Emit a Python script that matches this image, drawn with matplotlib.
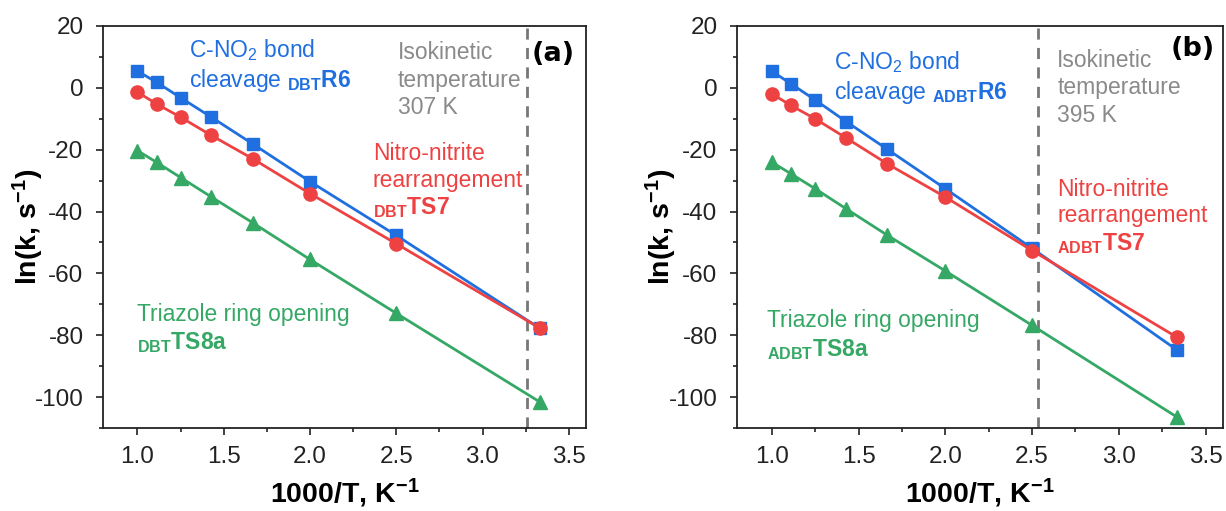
import matplotlib
matplotlib.use("Agg")
import matplotlib.pyplot as plt
from matplotlib.ticker import MultipleLocator

plt.rcParams['font.family'] = ['Liberation Sans', 'DejaVu Sans']
plt.rcParams['mathtext.fontset'] = 'custom'
plt.rcParams['mathtext.rm'] = 'Liberation Sans'
plt.rcParams['mathtext.it'] = 'Liberation Sans:italic'
plt.rcParams['mathtext.bf'] = 'Liberation Sans:bold'
plt.rcParams['axes.unicode_minus'] = False

# 1000/T for T = 1000 ... 300 K
inv_T = [1.0, 1.111, 1.25, 1.4286, 1.667, 2.0, 2.5, 3.333]

# panel (a) DBT
dbt_r6 = [5.4, 1.8, -3.2, -9.5, -18.1, -30.3, -47.7, -77.8]
dbt_ts7 = [-1.4, -5.2, -9.5, -15.4, -22.9, -34.2, -50.4, -77.7]
dbt_ts8a = [-20.3, -24.1, -29.0, -35.3, -43.6, -55.5, -72.9, -101.6]
dbt_iso_T = 307

# panel (b) ADBT
adbt_r6 = [5.4, 1.3, -3.9, -10.9, -19.9, -32.6, -51.9, -84.7]
adbt_ts7 = [-1.9, -5.7, -10.0, -16.2, -24.6, -35.3, -52.6, -80.6]
adbt_ts8a = [-24.0, -27.8, -32.6, -39.1, -47.7, -59.2, -76.8, -106.4]
adbt_iso_T = 395

blue = '#1f6fe0'
red = '#ee4242'
green = '#35a865'
grey = '#8a8a8a'

fig = plt.figure(figsize=(12.26, 5.11), dpi=100)
ax_a = fig.add_axes([103 / 1226, 1 - 428 / 511, 483 / 1226, 402 / 511])
ax_b = fig.add_axes([737 / 1226, 1 - 428 / 511, 486 / 1226, 402 / 511])


def draw_panel(ax, r6, ts7, ts8a, iso_T, name, letter, pos):
    ax.plot(inv_T, r6, 's-', color=blue, lw=2, ms=8, zorder=3)
    ax.plot(inv_T, ts7, 'o-', color=red, lw=2, ms=9.5, zorder=4)
    ax.plot(inv_T, ts8a, '^-', color=green, lw=2, ms=10, zorder=3)
    ax.axvline(1000 / iso_T, color='#777777', ls=(0, (4, 3)), lw=2, zorder=2)

    ax.set_xlim(0.8, 3.6)
    ax.set_ylim(-110, 20)
    ax.xaxis.set_major_locator(MultipleLocator(0.5))
    ax.xaxis.set_minor_locator(MultipleLocator(0.25))
    ax.yaxis.set_major_locator(MultipleLocator(20))
    ax.yaxis.set_minor_locator(MultipleLocator(10))
    ax.tick_params(which='major', direction='out', length=5, width=1.2,
                   labelsize=17.5, colors='#222222')
    ax.tick_params(axis='x', which='major', pad=8)
    ax.tick_params(axis='y', which='major', pad=9)
    ax.tick_params(which='minor', direction='out', length=3, width=1.2, colors='#222222')
    for s in ax.spines.values():
        s.set_linewidth(1.3)
        s.set_color('#222222')

    ax.set_xlabel(r'1000/T, K$^{\mathbf{-1}}$', fontsize=20.5, fontweight='bold', labelpad=6)
    ax.set_ylabel(r'ln(k, s$^{\mathbf{-1}}$)', fontsize=20.5, fontweight='bold')
    ax.yaxis.set_label_coords(-0.119, 0.5)

    ax.text(pos['blue'][0], pos['blue'][1],
            'C-NO$_2$ bond\ncleavage $_{\\mathbf{' + name + '}}\\mathbf{R6}$',
            color=blue, fontsize=16.5, va='top', ha='left', linespacing=1.2)
    # isokinetic note, one text per line
    for i, line in enumerate(['Isokinetic', 'temperature', '%d K' % iso_T]):
        ax.annotate(line, xy=pos['grey'], xytext=(0, -19.8 * i),
                    textcoords='offset points', color=grey, fontsize=16.5,
                    va='top', ha='left')
    ax.text(pos['red'][0], pos['red'][1],
            'Nitro-nitrite\nrearrangement\n$_{\\mathbf{' + name + '}}\\mathbf{TS7}$',
            color=red, fontsize=16.5, va='top', ha='left', linespacing=1.2)
    ax.text(pos['green'][0], pos['green'][1],
            'Triazole ring opening\n$_{\\mathbf{' + name + '}}\\mathbf{TS8a}$',
            color=green, fontsize=16.5, va='top', ha='left', linespacing=1.25)
    ax.text(pos['letter'][0], pos['letter'][1], letter, fontsize=19.5,
            fontweight='bold', family='DejaVu Sans', ha='left', va='center')


draw_panel(ax_a, dbt_r6, dbt_ts7, dbt_ts8a, dbt_iso_T, 'DBT', '(a)',
           {'blue': (1.30, 16.3), 'grey': (2.51, 15.0), 'red': (2.365, -17.5),
            'green': (0.995, -69.5), 'letter': (3.285, 11.0)})
draw_panel(ax_b, adbt_r6, adbt_ts7, adbt_ts8a, adbt_iso_T, 'ADBT', '(b)',
           {'blue': (1.36, 12.5), 'grey': (2.645, 12.6), 'red': (2.645, -29.0),
            'green': (0.97, -71.5), 'letter': (3.30, 12.5)})

fig.savefig('out.png', dpi=100)
